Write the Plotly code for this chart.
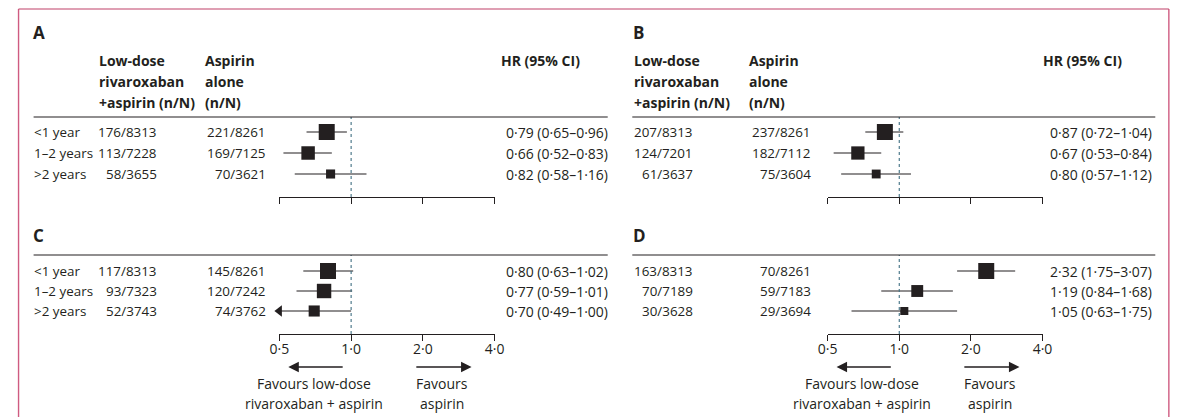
import math
import plotly.graph_objects as go

# ---------------------------------------------------------------- data
subgroups = ["<1 year", "1–2 years", ">2 years"]

riva_A = ["176/8313", "113/7228", "58/3655"]
asp_A = ["221/8261", "169/7125", "70/3621"]
hr_A = [0.79, 0.66, 0.82]
lo_A = [0.65, 0.52, 0.58]
hi_A = [0.96, 0.83, 1.16]

riva_B = ["207/8313", "124/7201", "61/3637"]
asp_B = ["237/8261", "182/7112", "75/3604"]
hr_B = [0.87, 0.67, 0.80]
lo_B = [0.72, 0.53, 0.57]
hi_B = [1.04, 0.84, 1.12]

riva_C = ["117/8313", "93/7323", "52/3743"]
asp_C = ["145/8261", "120/7242", "74/3762"]
hr_C = [0.80, 0.77, 0.70]
lo_C = [0.63, 0.59, 0.49]
hi_C = [1.02, 1.01, 1.00]

riva_D = ["163/8313", "70/7189", "30/3628"]
asp_D = ["70/8261", "59/7183", "29/3694"]
hr_D = [2.32, 1.19, 1.05]
lo_D = [1.75, 0.84, 0.63]
hi_D = [3.07, 1.68, 1.75]

tick_vals = [0.5, 1.0, 2.0, 4.0]
tick_text = ["0·5", "1·0", "2·0", "4·0"]

# ---------------------------------------------------------------- layout helpers
W, H = 1182, 417
INK = "#231f20"
FONT = "Open Sans"
FS = 14      # headers, HR column, axis text
FS_TAB = 13.4  # subgroup names and event counts


def px(x):
    return x / W


def py(y):
    return 1 - y / H


def fmt(v):
    return f"{v:.2f}".replace(".", "·")


def lg(v):
    # annotation coordinates on a log axis are given in log10 units
    return math.log10(v)


left_cols = dict(letter=22, sub=22, h1=88, c1=152, h2=196, c2=262,
                 hrh=497, hrv=610, rule=(24, 608), axis=(274, 493))
right_cols = dict(letter=633, sub=None, h1=633, c1=697, h2=750, c2=817,
                  hrh=1049, hrv=1164, rule=(633, 1165), axis=(831.7, 1050.3))

top_rows = dict(letter=33, heads=(60, 81, 102), rule=117, rows=(132, 153, 174),
                axis=197, labels=False)
bot_rows = dict(letter=235, heads=None, rule=255, rows=(271, 291, 311),
                axis=334, labels=True)

panels = [
    ("A", riva_A, asp_A, hr_A, lo_A, hi_A, left_cols, top_rows, 1),
    ("B", riva_B, asp_B, hr_B, lo_B, hi_B, right_cols, top_rows, 2),
    ("C", riva_C, asp_C, hr_C, lo_C, hi_C, left_cols, bot_rows, 3),
    ("D", riva_D, asp_D, hr_D, lo_D, hi_D, right_cols, bot_rows, 4),
]

XMIN, XMAX = 0.5, 4.0
BOX_MAX = 16  # side of the largest square in each panel, px

fig = go.Figure()
annotations = []
shapes = []
layout_axes = {}


def label(text, x, y, xref="paper", yref="paper", anchor="left", size=FS):
    return dict(text=text, xref=xref, yref=yref, x=x, y=y, xanchor=anchor,
                yanchor="middle", showarrow=False,
                font=dict(family=FONT, size=size, color=INK))


for letter, riva, asp, hr, lo, hi, cols, rows, k in panels:
    xa = "x" if k == 1 else f"x{k}"
    ya = "y" if k == 1 else f"y{k}"
    xkey = "xaxis" if k == 1 else f"xaxis{k}"
    ykey = "yaxis" if k == 1 else f"yaxis{k}"

    # y axis: row indices 0..2 placed between the header rule and the x axis
    r0, r1, r2 = rows["rows"]
    step = (r2 - r0) / 2
    top_pad = (r0 - rows["rule"]) / step
    bot_pad = (rows["axis"] - r2) / step
    layout_axes[ykey] = dict(domain=[py(rows["axis"]), py(rows["rule"])],
                             range=[2 + bot_pad, -top_pad], visible=False,
                             anchor=xa, fixedrange=True)
    layout_axes[xkey] = dict(
        domain=[px(cols["axis"][0]), px(cols["axis"][1])], type="log",
        range=[lg(XMIN), lg(XMAX)], anchor=ya,
        showline=True, linecolor=INK, linewidth=1.1, mirror=False,
        ticks="outside", ticklen=6, tickwidth=1.1, tickcolor=INK,
        tickvals=tick_vals, ticktext=tick_text, showticklabels=rows["labels"],
        ticklabelstandoff=-4,
        tickfont=dict(family=FONT, size=FS, color=INK),
        showgrid=False, zeroline=False, fixedrange=True)

    # confidence intervals (truncated at the axis limit with an arrow)
    xs, ys, arrow_y = [], [], []
    for i in range(3):
        xs += [max(lo[i], XMIN), min(hi[i], XMAX), None]
        ys += [i, i, None]
        if lo[i] < XMIN:
            arrow_y.append(i)
    fig.add_trace(go.Scatter(x=xs, y=ys, mode="lines", xaxis=xa, yaxis=ya,
                             line=dict(color=INK, width=1.2),
                             hoverinfo="skip", showlegend=False))
    if arrow_y:
        fig.add_trace(go.Scatter(x=[XMIN] * len(arrow_y), y=arrow_y, mode="markers",
                                 xaxis=xa, yaxis=ya, cliponaxis=False,
                                 marker=dict(symbol="triangle-left", size=10,
                                             color=INK, opacity=1,
                                             line=dict(width=0)),
                                 hoverinfo="skip", showlegend=False))

    # squares sized by the number of events in the subgroup
    events = [int(r.split("/")[0]) + int(s.split("/")[0]) for r, s in zip(riva, asp)]
    emax = max(events)
    sizes = [BOX_MAX * math.sqrt(e / emax) for e in events]
    fig.add_trace(go.Scatter(x=hr, y=[0, 1, 2], mode="markers", xaxis=xa, yaxis=ya,
                             cliponaxis=False,
                             marker=dict(symbol="square", size=sizes, color=INK,
                                         opacity=1, line=dict(width=0)),
                             hoverinfo="skip", showlegend=False))

    # reference line at HR = 1
    shapes.append(dict(type="line", xref=xa, yref=f"{ya} domain", x0=1, x1=1,
                       y0=0, y1=1,
                       line=dict(color="#3f6f82", width=1.1, dash="3px,3px")))

    # header rule
    shapes.append(dict(type="line", xref="paper", yref="paper",
                       x0=px(cols["rule"][0]), x1=px(cols["rule"][1]),
                       y0=py(rows["rule"]), y1=py(rows["rule"]),
                       line=dict(color=INK, width=1.1)))

    # panel letter
    annotations.append(label(f"<b>{letter}</b>", px(cols["letter"] - 1),
                             py(rows["letter"]), size=17))

    # column headers
    if rows["heads"]:
        h1 = ["Low-dose", "rivaroxaban", "+aspirin (n/N)"]
        h2 = ["Aspirin", "alone", "(n/N)"]
        for yy, t1, t2 in zip(rows["heads"], h1, h2):
            annotations.append(label(f"<b>{t1}</b>", px(cols["h1"]), py(yy)))
            annotations.append(label(f"<b>{t2}</b>", px(cols["h2"]), py(yy)))
        annotations.append(label("<b>HR (95% CI)</b>", px(cols["hrh"]),
                                 py(rows["heads"][0])))

    # table rows
    for i in range(3):
        if cols["sub"] is not None:
            annotations.append(label(subgroups[i], px(cols["sub"]), i, yref=ya,
                                     size=FS_TAB))
        annotations.append(label(riva[i], px(cols["c1"]), i, yref=ya, anchor="right",
                                 size=FS_TAB))
        annotations.append(label(asp[i], px(cols["c2"]), i, yref=ya, anchor="right",
                                 size=FS_TAB))
        annotations.append(label(f"{fmt(hr[i])} ({fmt(lo[i])}–{fmt(hi[i])})",
                                 px(cols["hrv"]), i, yref=ya, anchor="right"))

    # direction arrows under the bottom panels
    if rows["labels"]:
        ay = py(367)
        annotations.append(dict(x=lg(0.545), y=ay, xref=xa, yref="paper",
                                ax=lg(0.935), ay=0, axref=xa, ayref="pixel",
                                showarrow=True, arrowhead=2, arrowsize=1.4,
                                arrowwidth=1.5, arrowcolor=INK, text=""))
        annotations.append(dict(x=lg(3.2), y=ay, xref=xa, yref="paper",
                                ax=lg(1.85), ay=0, axref=xa, ayref="pixel",
                                showarrow=True, arrowhead=2, arrowsize=1.4,
                                arrowwidth=1.5, arrowcolor=INK, text=""))
        for yy, t in zip((383, 403), ("Favours low-dose", "rivaroxaban + aspirin")):
            annotations.append(label(t, lg(0.70), py(yy), xref=xa, anchor="center"))
        for yy, t in zip((383, 403), ("Favours", "aspirin")):
            annotations.append(label(t, lg(2.40), py(yy), xref=xa, anchor="center"))

# outer frame (open at the bottom edge of the page)
frame = "#cf5b81"
shapes.append(dict(type="line", xref="paper", yref="paper", x0=px(8.7), x1=px(8.7),
                   y0=-0.02, y1=py(9), line=dict(color=frame, width=1.4)))
shapes.append(dict(type="line", xref="paper", yref="paper", x0=px(1178.8),
                   x1=px(1178.8), y0=-0.02, y1=py(9),
                   line=dict(color=frame, width=1.4)))
shapes.append(dict(type="line", xref="paper", yref="paper", x0=px(8.7),
                   x1=px(1178.8), y0=py(9), y1=py(9),
                   line=dict(color="#c04068", width=1.2)))

fig.update_layout(width=W, height=H, margin=dict(l=0, r=0, t=0, b=0),
                  paper_bgcolor="white", plot_bgcolor="white",
                  font=dict(family=FONT, size=FS, color=INK),
                  annotations=annotations, shapes=shapes, showlegend=False,
                  **layout_axes)

fig.write_html("out.html", config={"displayModeBar": False})
